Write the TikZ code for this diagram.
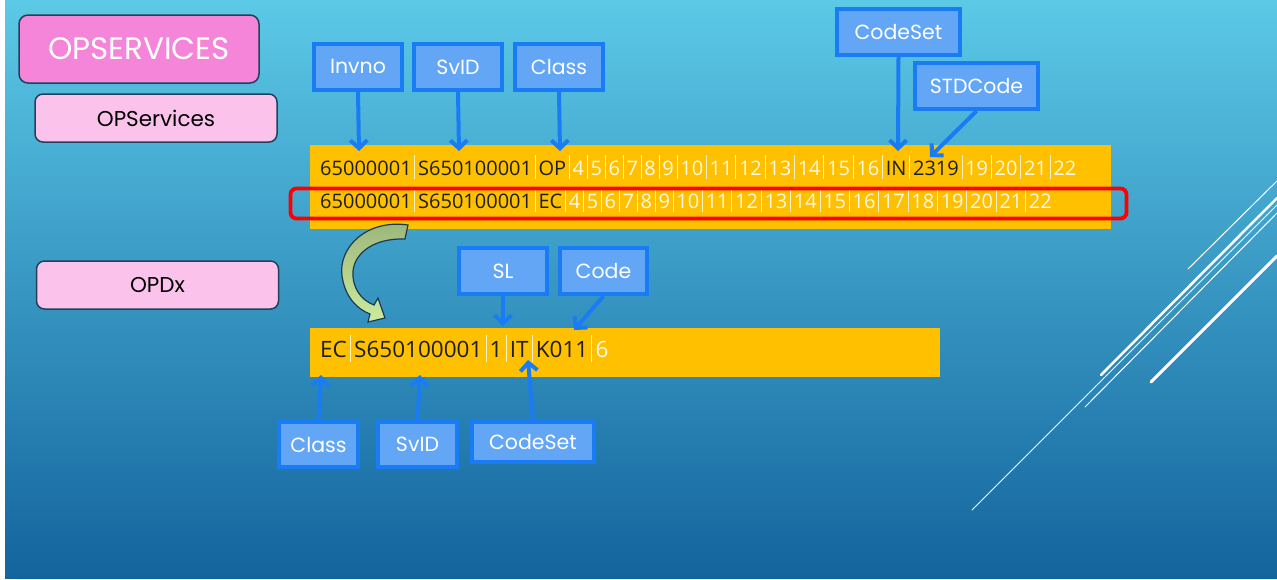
\documentclass[tikz,border=0pt]{standalone}
\usepackage{fontspec}
\setmainfont{Poppins}
\newfontfamily\rowfont{Open Sans}
\usetikzlibrary{arrows.meta}
\definecolor{bgtop}{HTML}{5CC9E7}
\definecolor{bgmid}{HTML}{3A9DC9}
\definecolor{bgbot}{HTML}{13649D}
\definecolor{pinkA}{HTML}{F485D8}
\definecolor{pinkB}{HTML}{FBC2EC}
\definecolor{pinkline}{HTML}{22405A}
\definecolor{lblfill}{HTML}{63A6F6}
\definecolor{lblline}{HTML}{1A7CF4}
\definecolor{barc}{HTML}{FFC000}
\definecolor{txtb}{HTML}{1E1E1E}
\definecolor{txtw}{HTML}{FFF8E4}
\definecolor{sepc}{HTML}{FFF2C8}
\definecolor{greenA}{HTML}{9BB57A}
\definecolor{greenB}{HTML}{CDEB9D}
\definecolor{arrline}{HTML}{1B3A50}
\newcommand\blk[1]{{\color{txtb}#1}}
\newcommand\vsepbar{\hspace{0.14em}{\color{sepc}\rule[-0.2em]{0.045em}{1.2em}}\hspace{0.14em}}
\begin{document}
\begin{tikzpicture}[x=1pt,y=-1pt,
  pinkbig/.style={draw=pinkline, line width=1.5pt, fill=pinkA, rounded corners=9pt, inner sep=0pt,
    minimum width=240pt, minimum height=68pt, text=white, font=\fontsize{31}{36}\selectfont},
  pinksmall/.style={draw=pinkline, line width=1.5pt, fill=pinkB, rounded corners=8pt, inner sep=0pt,
    minimum width=242pt, minimum height=48pt, text=black, font=\fontsize{21.5}{25}\selectfont},
  lbl/.style={draw=lblline, line width=4pt, fill=lblfill, inner sep=0pt, text=white,
    minimum width=88pt, minimum height=46pt, font=\fontsize{20.5}{24}\selectfont},
  ptr/.style={draw=lblline, line width=4pt, -{Straight Barb[length=8pt,width=17pt]}},
  rowtxt/.style={anchor=base west, inner sep=0pt, text=txtw, font=\rowfont\fontsize{20}{24}\selectfont},
  slash/.style={white, line cap=round}
]
\useasboundingbox (0,0) rectangle (1277,579);
\fill[white] (0,0) rectangle (1277,579);
\shade[top color=bgtop, middle color=bgmid, bottom color=bgbot] (5,0) rectangle (1277,578);

% decorative diagonal lines
\draw[slash, line width=1pt] (1188,269) -- (1277,181);
\draw[slash, line width=2.5pt] (1101,375) -- (1277,198);
\draw[slash, line width=1pt] (972,510) -- (1277,205);
\draw[slash, line width=1pt] (1085,407) -- (1277,213);
\draw[slash, line width=3pt] (1151,382) -- (1277,256);

% pink boxes
\node[pinkbig] (title) at (139,49) {OPSERVICES};
\node[pinksmall] (opserv) at (156,118) {OPServices};
\node[pinksmall] (opdx) at (157.5,285) {OPDx};

% yellow bars
\fill[barc] (310,145) rectangle (1111,229);
\fill[barc] (310,328) rectangle (940,377);

% row texts
\node[rowtxt] (rowA) at (320,175) {\blk{65000001}\vsepbar\blk{S650100001}\vsepbar\blk{OP}\vsepbar 4\vsepbar 5\vsepbar 6\vsepbar 7\vsepbar 8\vsepbar 9\vsepbar 10\vsepbar 11\vsepbar 12\vsepbar 13\vsepbar 14\vsepbar 15\vsepbar 16\vsepbar\blk{IN}\vsepbar\blk{2319}\vsepbar 19\vsepbar 20\vsepbar 21\vsepbar 22};
\node[rowtxt] (rowB) at (320,208) {\blk{65000001}\vsepbar\blk{S650100001}\vsepbar\blk{EC}\vsepbar 4\vsepbar 5\vsepbar 6\vsepbar 7\vsepbar 8\vsepbar 9\vsepbar 10\vsepbar 11\vsepbar 12\vsepbar 13\vsepbar 14\vsepbar 15\vsepbar 16\vsepbar 17\vsepbar 18\vsepbar 19\vsepbar 20\vsepbar 21\vsepbar 22};
\node[rowtxt, font=\rowfont\fontsize{22.5}{26}\selectfont] (rowC) at (320,357) {\blk{EC}\vsepbar\blk{S650100001}\vsepbar\blk{1}\vsepbar\blk{IT}\vsepbar\blk{K011}\vsepbar 6};

% red highlight
\draw[red, line width=3.8pt, rounded corners=6pt] (290.5,188.5) rectangle (1126.5,218.5);

% curved block arrow
\draw[draw=arrline, line width=1.2pt, top color=greenA, bottom color=greenB]
  (408,225) .. controls (366,219) and (338,248) .. (342,276)
  .. controls (345,297) and (357,309) .. (370,314)
  -- (368,322) -- (385,318) -- (378,298) -- (374,305)
  .. controls (361,300) and (352,288) .. (353,271)
  .. controls (355,252) and (375,238) .. (405,239) -- cycle;

% label boxes
\node[lbl] (invno) at (358,66.5) {Invno};
\node[lbl] (svid) at (458,67) {SvID};
\node[lbl] (class) at (559,67) {Class};
\node[lbl, minimum width=123pt] (codeset) at (898.5,32) {CodeSet};
\node[lbl, minimum width=123pt] (stdcode) at (976.5,86) {STDCode};
\node[lbl] (sl) at (503,271) {SL};
\node[lbl, minimum width=87pt] (code) at (603.5,271) {Code};
\node[lbl, minimum width=79pt, minimum height=45pt] (classB) at (318.5,444.5) {Class};
\node[lbl, minimum width=79pt, minimum height=45pt] (svidB) at (417.5,444.5) {SvID};
\node[lbl, minimum width=122pt, minimum height=40pt] (codesetB) at (533,442) {CodeSet};

% arrow targets
\coordinate (tInv) at (359,151);
\coordinate (tSv) at (459,151);
\coordinate (tCl) at (560,151);
\coordinate (tCs) at (898,151);
\coordinate (tStd) at (930,157);
\coordinate (tSl) at (503,326);
\coordinate (tCode) at (574,330);
\coordinate (tClB) at (321,375);
\coordinate (tSvB) at (420,375);
\coordinate (tCsB) at (528,360);

\draw[ptr] (invno.south) -- (tInv);
\draw[ptr] (svid.south) -- (tSv);
\draw[ptr] (class.south) -- (tCl);
\draw[ptr] (codeset.south) -- (tCs);
\draw[ptr] (stdcode.south) -- (tStd);
\draw[ptr] (sl.south) -- (tSl);
\draw[ptr] (code.south) -- (tCode);
\draw[ptr] (classB.north) -- (tClB);
\draw[ptr] (svidB.north) -- (tSvB);
\draw[ptr] (codesetB.north) -- (tCsB);
\end{tikzpicture}
\end{document}
